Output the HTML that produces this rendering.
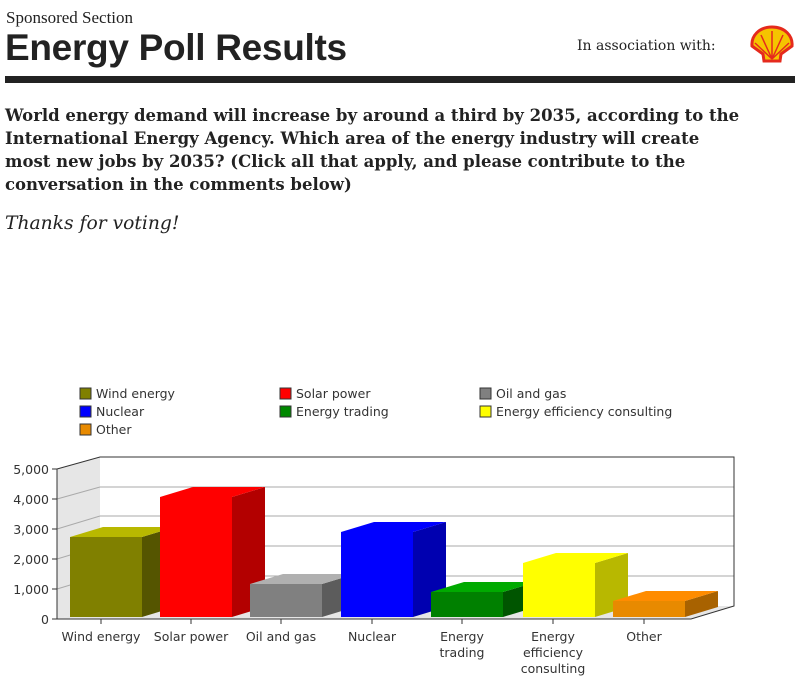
<!DOCTYPE html>
<html><head><meta charset="utf-8"><style>
body{margin:0;width:798px;height:700px;background:#fff;overflow:hidden;position:relative;font-family:"Liberation Serif",serif;color:#222}
.a{position:absolute;white-space:nowrap}
</style></head><body>
<div class="a" style="left:6px;top:8px;font-size:17px;">Sponsored Section</div>
<div class="a" style="left:5px;top:27px;font-family:'Liberation Sans',sans-serif;font-size:37px;font-weight:bold;color:#222;letter-spacing:-0.3px">Energy Poll Results</div>
<div class="a" style="left:577px;top:38px;font-family:'DejaVu Serif',serif;font-size:14px;">In association with:</div>
<svg class="a" style="left:749px;top:25px" width="46" height="42" viewBox="0 0 46 42">
<path d="M23 2C10 2 2 11 3 21L14 29 15 36 31 36 32 29 43 21C44 11 36 2 23 2Z" fill="#f5c400" stroke="#e52a1d" stroke-width="3"/>
<path d="M23 34V6M23 34L12 10M23 34L34 10M23 34L6 18M23 34L40 18" stroke="#e52a1d" stroke-width="1.5"/>
</svg>
<div class="a" style="left:5px;top:76px;width:790px;height:7px;background:#222"></div>
<div class="a" style="left:5px;top:104px;font-family:'DejaVu Serif',serif;font-size:16.5px;font-weight:bold;line-height:23px;">World energy demand will increase by around a third by 2035, according to the<br>International Energy Agency. Which area of the energy industry will create<br>most new jobs by 2035? (Click all that apply, and please contribute to the<br>conversation in the comments below)</div>
<div class="a" style="left:5px;top:213px;font-family:'DejaVu Serif',serif;font-size:18.7px;font-style:italic">Thanks for voting!</div>
<svg class="a" style="left:0;top:0" width="798" height="700" font-family="DejaVu Sans, sans-serif" font-size="12.5" fill="#333">
<g stroke="#333" stroke-width="1">
<rect x="80" y="388" width="11" height="11" fill="#808000"/><rect x="280" y="388" width="11" height="11" fill="#f00"/><rect x="480" y="388" width="11" height="11" fill="#808080"/>
<rect x="80" y="406" width="11" height="11" fill="#00f"/><rect x="280" y="406" width="11" height="11" fill="#080"/><rect x="480" y="406" width="11" height="11" fill="#ff0"/>
<rect x="80" y="424" width="11" height="11" fill="#e88a00"/>
</g>
<text x="96" y="398">Wind energy</text><text x="296" y="398">Solar power</text><text x="496" y="398">Oil and gas</text>
<text x="96" y="416">Nuclear</text><text x="296" y="416">Energy trading</text><text x="496" y="416">Energy efficiency consulting</text>
<text x="96" y="434">Other</text>
<polygon points="57,469 100,457 100,606 57,619" fill="#e6e6e6"/>
<polygon points="57,619 100,606 734,606 691,619" fill="#e6e6e6"/>
<g stroke="#aaa"><line x1="100" y1="576" x2="734" y2="576"/><line x1="100" y1="546" x2="734" y2="546"/><line x1="100" y1="516" x2="734" y2="516"/><line x1="100" y1="487" x2="734" y2="487"/>
<line x1="57" y1="589" x2="100" y2="576"/><line x1="57" y1="559" x2="100" y2="546"/><line x1="57" y1="529" x2="100" y2="516"/><line x1="57" y1="499" x2="100" y2="487"/></g>
<polyline points="57,469 100,457 734,457 734,606 691,619 57,619 57,469" fill="none" stroke="#333"/>
<g stroke="#333"><line x1="52" y1="619" x2="57" y2="619"/><line x1="52" y1="589" x2="57" y2="589"/><line x1="52" y1="559" x2="57" y2="559"/><line x1="52" y1="529" x2="57" y2="529"/><line x1="52" y1="499" x2="57" y2="499"/><line x1="52" y1="469" x2="57" y2="469"/>
<line x1="101" y1="619" x2="101" y2="624"/><line x1="191" y1="619" x2="191" y2="624"/><line x1="281" y1="619" x2="281" y2="624"/><line x1="372" y1="619" x2="372" y2="624"/><line x1="462" y1="619" x2="462" y2="624"/><line x1="553" y1="619" x2="553" y2="624"/><line x1="644" y1="619" x2="644" y2="624"/></g>
<g text-anchor="end"><text x="49" y="624">0</text><text x="49" y="594">1,000</text><text x="49" y="564">2,000</text><text x="49" y="534">3,000</text><text x="49" y="504">4,000</text><text x="49" y="474">5,000</text></g>
<g>
<polygon points="142,537 175,527 175,607 142,617" fill="#555500"/><polygon points="70,537 103,527 175,527 142,537" fill="#b8b800"/><rect x="70" y="537" width="72" height="80" fill="#808000"/>
<polygon points="232,497 265,487 265,607 232,617" fill="#b30000"/><polygon points="160,497 193,487 265,487 232,497" fill="#f00"/><rect x="160" y="497" width="72" height="120" fill="#f00"/>
<polygon points="322,584 355,574 355,607 322,617" fill="#5c5c5c"/><polygon points="250,584 283,574 355,574 322,584" fill="#b0b0b0"/><rect x="250" y="584" width="72" height="33" fill="#808080"/>
<polygon points="413,532 446,522 446,607 413,617" fill="#0000b0"/><polygon points="341,532 374,522 446,522 413,532" fill="#00f"/><rect x="341" y="532" width="72" height="85" fill="#00f"/>
<polygon points="503,592 536,582 536,607 503,617" fill="#005500"/><polygon points="431,592 464,582 536,582 503,592" fill="#00aa00"/><rect x="431" y="592" width="72" height="25" fill="#008000"/>
<polygon points="595,563 628,553 628,607 595,617" fill="#b8b800"/><polygon points="523,563 556,553 628,553 595,563" fill="#ff0"/><rect x="523" y="563" width="72" height="54" fill="#ff0"/>
<polygon points="685,601 718,591 718,607 685,617" fill="#a86200"/><polygon points="613,601 646,591 718,591 685,601" fill="#ff8c00"/><rect x="613" y="601" width="72" height="16" fill="#e88a00"/>
</g>
<g text-anchor="middle">
<text x="101" y="641">Wind energy</text><text x="191" y="641">Solar power</text><text x="281" y="641">Oil and gas</text><text x="372" y="641">Nuclear</text>
<text x="462" y="641">Energy</text><text x="462" y="657">trading</text>
<text x="553" y="641">Energy</text><text x="553" y="657">efficiency</text><text x="553" y="673">consulting</text>
<text x="644" y="641">Other</text>
</g>
</svg>
</body></html>
